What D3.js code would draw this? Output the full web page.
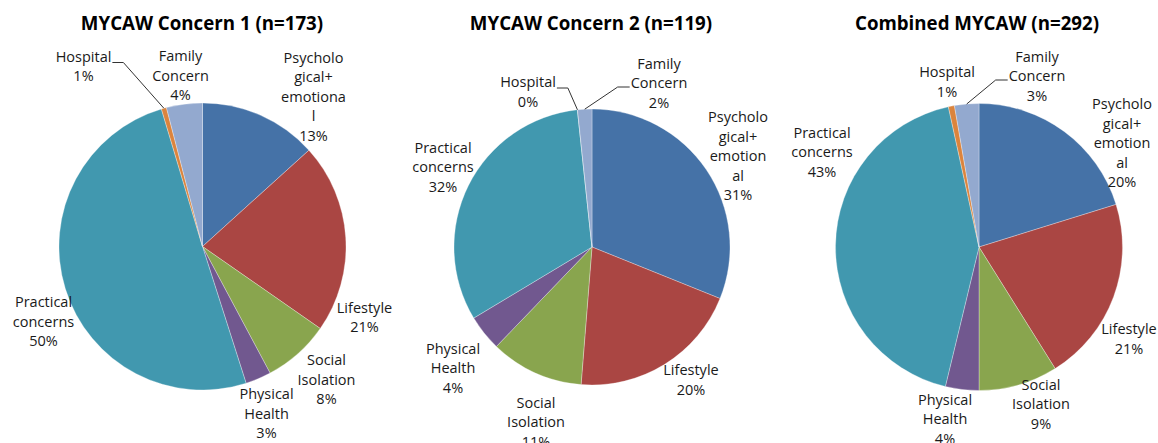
<!DOCTYPE html>
<meta charset="utf-8">
<style>
  body { margin: 0; background: #fff; }
  .title { font-family: "Open Sans", sans-serif; font-weight: bold; font-size: 18.7px; fill: #000; }
  .lbl { font-family: "Open Sans", sans-serif; font-size: 14.5px; fill: #1a1a1a; }
  .leader { stroke: #333; stroke-width: 1; fill: none; }
  .slice { stroke: #fff; stroke-width: 0.6; stroke-opacity: 0.5; }
</style>
<script src="https://d3js.org/d3.v7.min.js"></script>
<body>
<script>

// categories, clockwise from 12 o'clock
var categories = ["Psychological+emotional", "Lifestyle", "Social Isolation", "Physical Health",
                  "Practical concerns", "Hospital", "Family Concern"];
var colors = ["#4572A7", "#AA4643", "#89A54E", "#71588F", "#4198AF", "#DB843D", "#93A9CF"];

// counts (estimated from slice angles and n)
var concern1 = [23, 37, 13, 5, 87, 1, 7];
var concern2 = [37, 24, 13, 5, 38, 0, 2];
var combined = [59, 61, 26, 11, 125, 2, 8];

var titles = ["MYCAW Concern 1 (n=173)", "MYCAW Concern 2 (n=119)", "Combined MYCAW (n=292)"];

// how excel wrapped the category text in each chart
var wrapA = [["Psycholo", "gical+", "emotiona", "l"], ["Lifestyle"], ["Social", "Isolation"],
             ["Physical", "Health"], ["Practical", "concerns"], ["Hospital"], ["Family", "Concern"]];
var wrapB = [["Psycholo", "gical+", "emotion", "al"], ["Lifestyle"], ["Social", "Isolation"],
             ["Physical", "Health"], ["Practical", "concerns"], ["Hospital"], ["Family", "Concern"]];

// layout only
var centers = [[202.5, 246.5], [592, 247], [979, 247]];
var radii = [143.5, 138, 143.5];
var titleX = [202, 591, 977];
var labelPos = [
  [[111, -150], [162, 71], [124, 133], [64, 167], [-159, 75], [-119, -180], [-22, -171]],
  [[146, -91], [99, 133], [-56, 175], [-139, 121], [-149, -80], [-64, -155], [67, -164]],
  [[143, -104], [150, 92], [62, 157], [-34, 172], [-157, -95], [-32, -165], [58, -171]]
];
var leaders = [[5], [5, 6], [6]];

var width = 1158, height = 443, lh = 19.5;

var svg = d3.select("body").append("svg")
    .attr("width", width)
    .attr("height", height);

var pie = d3.pie().sort(null).value(function(d) { return d; });

function drawPie(idx, values, wrap) {
  var total = d3.sum(values);
  var r = radii[idx];
  var g = svg.append("g")
      .attr("transform", "translate(" + centers[idx][0] + "," + centers[idx][1] + ")");

  var arc = d3.arc().innerRadius(0).outerRadius(r);
  var edge = d3.arc().innerRadius(r).outerRadius(r);
  var arcs = pie(values);

  g.selectAll("path.slice")
    .data(arcs)
    .enter().append("path")
      .attr("class", "slice")
      .attr("d", arc)
      .attr("fill", function(d, i) { return colors[i]; });

  svg.append("text")
      .attr("class", "title")
      .attr("x", titleX[idx])
      .attr("y", 30)
      .attr("text-anchor", "middle")
      .text(titles[idx]);

  arcs.forEach(function(d, i) {
    var lines = wrap[i].concat([Math.round(d.value / total * 100) + "%"]);
    var p = labelPos[idx][i];
    var t = g.append("text")
        .attr("class", "lbl")
        .attr("text-anchor", "middle");
    lines.forEach(function(s, k) {
      t.append("tspan")
        .attr("x", p[0])
        .attr("y", p[1] - (lines.length - 1) * lh / 2 + k * lh)
        .attr("dy", "0.36em")
        .text(s);
    });

    if (leaders[idx].indexOf(i) >= 0) {
      var bb = t.node().getBBox();
      var e = edge.centroid(d);
      var fromLeft = p[0] < e[0];
      var sx = fromLeft ? bb.x + bb.width + 1 : bb.x - 1;
      var sy = p[1] + (fromLeft ? -4 : 4);
      var mx = fromLeft ? sx + 11 : sx - 12;
      g.append("path")
        .attr("class", "leader")
        .attr("d", "M" + sx + "," + sy + "L" + mx + "," + sy + "L" + e[0] + "," + e[1]);
    }
  });
}

drawPie(0, concern1, wrapA);
drawPie(1, concern2, wrapB);
drawPie(2, combined, wrapB);

</script>
</body>
